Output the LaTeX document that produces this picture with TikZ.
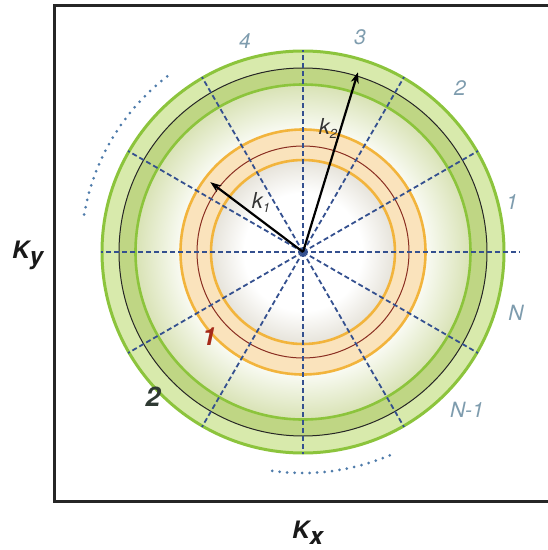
\documentclass[tikz,border=0pt]{standalone}
\usepackage{fontspec}
\setmainfont{TeX Gyre Heros}
\usetikzlibrary{arrows.meta}
\definecolor{gline}{HTML}{8CC43C}
\definecolor{gband}{HTML}{D8EAAC}
\definecolor{gbandtwo}{HTML}{BFD684}
\definecolor{gedge}{HTML}{D8E2B4}
\definecolor{oline}{HTML}{F2B43C}
\definecolor{oband}{HTML}{FAE3BC}
\definecolor{bline}{HTML}{8A2E22}
\definecolor{dashblue}{HTML}{34508F}
\definecolor{lblc}{HTML}{7E9CAE}
\definecolor{dotc}{HTML}{4E7BAA}
\definecolor{greyedge}{HTML}{E6E3DA}
\definecolor{redlbl}{HTML}{A52A1A}
\definecolor{darklbl}{HTML}{2F3A33}
\pgfdeclareradialshading{greenfade}{\pgfpoint{0bp}{0bp}}{color(0bp)=(white); color(17bp)=(white); color(25bp)=(gedge); color(50bp)=(gedge)}
\pgfdeclareradialshading{innerfade}{\pgfpoint{0bp}{0bp}}{color(0bp)=(white); color(16bp)=(white); color(25bp)=(greyedge); color(50bp)=(greyedge)}
\tikzset{
  dashln/.style={dashblue, line width=1.8pt, dash pattern=on 5pt off 3pt},
  dotarc/.style={dotc, line width=3pt, line cap=round, dash pattern=on 0pt off 7.5pt},
  karrow/.style={black, line width=2.2pt, -{Stealth[length=11pt,width=8pt]}},
  numlbl/.style={lblc, font=\fontsize{21}{21}\selectfont\itshape, inner sep=0pt},
  klbl/.style={black!80, font=\fontsize{22}{22}\selectfont\itshape, inner sep=0pt},
  biglbl/.style={black!90, font=\fontsize{24}{24}\selectfont\bfseries\itshape, inner sep=0pt},
  framel/.style={black!85, line width=3pt},
}
\begin{document}
\begin{tikzpicture}[x=1pt,y=1pt]
\useasboundingbox (-303,-298) rectangle (245,252);
\fill[white] (-303,-298) rectangle (245,252);
\coordinate (c) at (0,0);
% frame
\coordinate (ftr) at (246,247);
\coordinate (ftl) at (-248,247);
\coordinate (fbl) at (-248,-249);
\coordinate (fbr) at (246,-249);
\draw[framel] (ftr) -- (ftl) -- (fbl) -- (fbr);
% green bands
\fill[gband, even odd rule] (c) circle (201) circle (184);
\fill[gbandtwo, even odd rule] (c) circle (184) circle (168);
\shade[shading=greenfade] (c) circle (168);
\draw[gline, line width=2.6pt] (c) circle (167.5);
\draw[black!85, line width=1pt] (c) circle (184);
\draw[gline, line width=3pt] (c) circle (201);
% orange band
\fill[oband, even odd rule] (c) circle (123) circle (92);
\shade[shading=innerfade] (c) circle (92);
\draw[oline, line width=2.6pt] (c) circle (122.5);
\draw[oline, line width=2.6pt] (c) circle (92);
\draw[bline, line width=1pt] (c) circle (106);
% dashed radial lines
\foreach \a in {30,60,...,330} \draw[dashln] (c) -- (\a:202);
\coordinate (hr) at (217,0);
\draw[dashln] (c) -- (hr);
\fill[dashblue] (c) circle (3.5);
% dotted arcs
\draw[dotarc] (127.7:222) arc[start angle=127.7, end angle=171, radius=222];
\draw[dotarc] (262:221) arc[start angle=262, end angle=295, radius=221];
% arrows
\coordinate (k1) at (143:116);
\coordinate (k2) at (73:188);
\draw[karrow] (c) -- (k1);
\draw[karrow] (c) -- (k2);
\node[klbl] (k1l) at (-42,50) {k\raisebox{-4pt}{\fontsize{13}{13}\selectfont 1}};
\node[klbl] (k2l) at (25,124) {k\raisebox{-4pt}{\fontsize{13}{13}\selectfont 2}};
% index labels
\node[numlbl] (n4) at (-58,211) {4};
\node[numlbl] (n3) at (57,215) {3};
\node[numlbl] (n2) at (157,164) {2};
\node[numlbl] (n1) at (209,50) {1};
\node[numlbl] (nN) at (213,-61) {N};
\node[numlbl] (nN1) at (164,-158) {N-1};
\node[redlbl, font=\fontsize{25}{25}\selectfont\bfseries\itshape, inner sep=0pt] (r1) at (-94,-85) {1};
\node[darklbl, font=\fontsize{27}{27}\selectfont\bfseries\itshape, inner sep=0pt] (r2) at (-150,-145) {2};
% axis labels
\node[biglbl, anchor=base west] (ky) at (-291,-6) {K\raisebox{-6pt}{y}};
\node[biglbl, anchor=base west] (kx) at (-11,-286) {K\raisebox{-6pt}{x}};
\end{tikzpicture}
\end{document}
